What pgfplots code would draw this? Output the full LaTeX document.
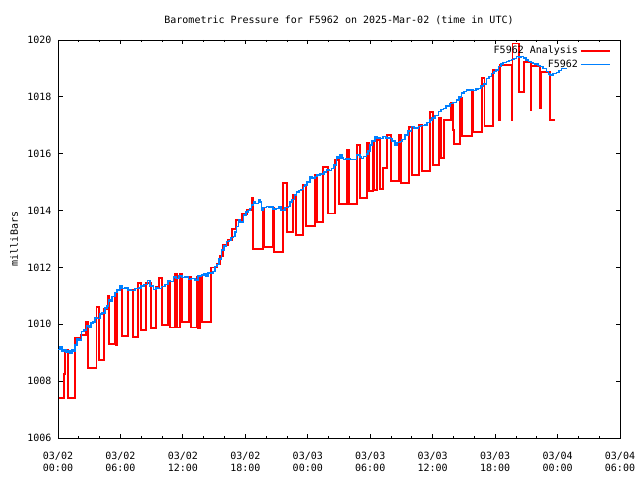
\documentclass[border=0pt]{standalone}
\usepackage{fontspec}
\setmainfont{DejaVu Sans Mono}
\usepackage{pgfplots}
\pgfplotsset{compat=1.18}
\definecolor{obsblue}{RGB}{0,128,255}
\definecolor{anared}{RGB}{255,0,0}
\newcommand\gf{\fontsize{10bp}{12bp}\selectfont}
\begin{document}
\begin{tikzpicture}
\begin{axis}[
  name=ax,
  scale only axis,
  width=562bp, height=398bp,
  xmin=0, xmax=54, ymin=1006, ymax=1020,
  xtick={0,6,...,54},
  xticklabels={{03/02\\00:00},{03/02\\06:00},{03/02\\12:00},{03/02\\18:00},{03/03\\00:00},{03/03\\06:00},{03/03\\12:00},{03/03\\18:00},{03/04\\00:00},{03/04\\06:00}},
  minor x tick num=2,
  ytick={1006,1008,...,1020},
  yticklabels={1006,1008,1010,1012,1014,1016,1018,1020},
  tick align=inside, tick pos=both,
  major tick length=4.5bp, minor tick length=2.5bp,
  every tick/.style={black, line width=0.8bp},
  axis line style={line width=0.9bp},
  xticklabel style={align=center, font=\gf, yshift=-11bp},
  yticklabel style={font=\gf, xshift=-3bp},
  /pgf/number format/assume math mode=true,
  legend style={draw=none, fill=none, at={(1,1)}, anchor=north east, xshift=-9bp, yshift=-4bp, font=\gf, inner sep=0pt, row sep=0.5bp, /tikz/every even column/.append style={column sep=4bp}},
  legend cell align=right,
  legend plot pos=right,
  legend image code/.code={\draw[#1] (0bp,0bp) -- (29bp,0bp);},
  clip mode=individual,
]
\addplot[draw=anared, line width=1.8bp, line join=miter] coordinates {
(0.07,1007.42)
(0.61,1007.42)(0.61,1008.24)
(0.70,1008.24)(0.70,1009.10)
(0.93,1009.10)(0.93,1007.42)
(1.66,1007.42)(1.66,1009.53)
(2.21,1009.53)(2.21,1009.62)
(2.69,1009.62)(2.69,1010.07)
(2.91,1010.07)(2.91,1008.45)
(3.70,1008.45)(3.70,1010.60)
(3.91,1010.60)(3.91,1008.74)
(4.42,1008.74)(4.42,1010.53)
(4.78,1010.53)(4.78,1011.00)
(4.93,1011.00)(4.93,1009.30)
(5.48,1009.30)(5.48,1011.09)
(5.57,1011.09)(5.57,1009.27)
(5.64,1009.27)(5.64,1011.21)
(6.15,1011.21)(6.15,1009.60)
(6.70,1009.60)(6.70,1011.21)
(7.18,1011.21)(7.18,1009.54)
(7.66,1009.54)(7.66,1011.44)
(7.98,1011.44)(7.98,1009.80)
(8.46,1009.80)(8.46,1011.44)
(8.94,1011.44)(8.94,1009.86)
(9.42,1009.86)(9.42,1011.32)
(9.73,1011.32)(9.73,1011.62)
(9.96,1011.62)(9.96,1009.98)
(10.60,1009.98)(10.60,1011.44)
(10.76,1011.44)(10.76,1009.89)
(11.24,1009.89)(11.24,1011.76)
(11.41,1011.76)(11.41,1009.89)
(11.72,1009.89)(11.72,1011.76)
(11.89,1011.76)(11.89,1010.09)
(12.62,1010.09)(12.62,1011.67)
(12.78,1011.67)(12.78,1009.89)
(13.39,1009.89)(13.39,1011.66)
(13.48,1011.66)(13.48,1009.87)
(13.64,1009.87)(13.64,1011.66)
(13.81,1011.66)(13.81,1010.09)
(14.67,1010.09)(14.67,1012.00)
(15.25,1012.00)(15.25,1012.12)
(15.57,1012.12)(15.57,1012.40)
(15.86,1012.40)(15.86,1012.79)
(16.36,1012.79)(16.36,1012.97)
(16.75,1012.97)(16.75,1013.35)
(17.10,1013.35)(17.10,1013.67)
(17.65,1013.67)(17.65,1013.88)
(18.13,1013.88)(18.13,1014.02)
(18.61,1014.02)(18.61,1014.43)
(18.77,1014.43)(18.77,1012.64)
(19.67,1012.64)(19.67,1014.05)
(19.82,1014.05)(19.82,1012.71)
(20.63,1012.71)(20.63,1014.08)
(20.76,1014.08)(20.76,1012.55)
(21.65,1012.55)(21.65,1014.96)
(22.03,1014.96)(22.03,1013.26)
(22.61,1013.26)(22.61,1014.55)
(22.87,1014.55)(22.87,1013.14)
(23.57,1013.14)(23.57,1014.90)
(23.83,1014.90)(23.83,1013.46)
(24.70,1013.46)(24.70,1015.25)
(24.86,1015.25)(24.86,1013.61)
(25.49,1013.61)(25.49,1015.54)
(25.97,1015.54)(25.97,1013.90)
(26.62,1013.90)(26.62,1015.78)
(27.03,1015.78)(27.03,1014.23)
(27.74,1014.23)(27.74,1016.13)
(27.99,1016.13)(27.99,1014.23)
(28.70,1014.23)(28.70,1016.31)
(29.02,1016.31)(29.02,1014.43)
(29.66,1014.43)(29.66,1016.39)
(29.88,1016.39)(29.88,1014.69)
(30.24,1014.69)(30.24,1016.42)
(30.39,1016.42)(30.39,1014.72)
(30.62,1014.72)(30.62,1016.48)
(30.94,1016.48)(30.94,1014.75)
(31.20,1014.75)(31.20,1015.49)
(31.58,1015.49)(31.58,1016.66)
(31.97,1016.66)(31.97,1015.04)
(32.77,1015.04)(32.77,1016.66)
(32.93,1016.66)(32.93,1014.96)
(33.73,1014.96)(33.73,1016.93)
(33.99,1016.93)(33.99,1015.25)
(34.72,1015.25)(34.72,1017.03)
(34.95,1017.03)(34.95,1015.40)
(35.75,1015.40)(35.75,1017.46)
(36.01,1017.46)(36.01,1015.60)
(36.61,1015.60)(36.61,1017.26)
(36.80,1017.26)(36.80,1015.85)
(37.09,1015.85)(37.09,1017.19)
(37.76,1017.19)(37.76,1017.77)
(37.93,1017.77)(37.93,1016.83)
(38.05,1016.83)(38.05,1016.33)
(38.63,1016.33)(38.63,1017.95)
(38.79,1017.95)(38.79,1016.62)
(39.75,1016.62)(39.75,1018.24)
(39.85,1018.24)(39.85,1016.77)
(40.71,1016.77)(40.71,1018.65)
(40.98,1018.65)(40.98,1016.97)
(41.77,1016.97)(41.77,1018.94)
(42.40,1018.94)(42.40,1017.19)
(42.47,1017.19)(42.47,1019.12)
(43.60,1019.12)(43.60,1017.19)
(43.67,1017.19)(43.67,1019.88)
(44.33,1019.88)(44.33,1018.18)
(44.78,1018.18)(44.78,1019.24)
(45.42,1019.24)(45.42,1017.54)
(45.50,1017.54)(45.50,1019.09)
(46.32,1019.09)(46.32,1017.61)
(46.41,1017.61)(46.41,1018.87)
(47.25,1018.87)(47.25,1017.19)
(47.76,1017.19)
};
\addlegendentry{F5962 Analysis}
\addplot[const plot, draw=obsblue, line width=1.4bp] coordinates {
(0.03,1009.12) (0.19,1009.20) (0.38,1009.05) (0.58,1009.10) (0.77,1009.00) (0.96,1009.08)
(1.15,1008.98) (1.35,1009.10) (1.44,1009.05) (1.63,1009.27) (1.83,1009.50) (2.02,1009.45)
(2.28,1009.74) (2.50,1009.80) (2.76,1009.94) (2.98,1009.90) (3.17,1010.05) (3.36,1010.08)
(3.56,1010.22) (3.75,1010.20) (4.04,1010.36) (4.23,1010.40) (4.52,1010.57) (4.71,1010.65)
(4.83,1010.85) (5.00,1010.80) (5.19,1010.98) (5.48,1011.11) (5.67,1011.20) (5.96,1011.35)
(6.15,1011.25) (6.44,1011.27) (6.73,1011.20) (7.08,1011.19) (7.40,1011.25) (7.72,1011.27)
(7.98,1011.35) (8.26,1011.40) (8.62,1011.53) (8.84,1011.35) (9.16,1011.23) (9.42,1011.30)
(9.61,1011.25) (9.96,1011.32) (10.28,1011.40) (10.57,1011.55) (10.76,1011.50) (11.08,1011.67)
(11.34,1011.62) (11.63,1011.70) (11.92,1011.65) (12.20,1011.67) (12.52,1011.58) (12.78,1011.62)
(13.16,1011.56) (13.45,1011.70) (13.81,1011.73) (14.03,1011.78) (14.22,1011.70) (14.41,1011.80)
(14.77,1011.79) (14.89,1011.85) (15.09,1012.03) (15.28,1012.10) (15.47,1012.30) (15.73,1012.61)
(15.95,1012.75) (16.21,1012.91) (16.43,1012.95) (16.62,1013.05) (16.84,1013.08) (17.01,1013.25)
(17.15,1013.45) (17.33,1013.67) (17.49,1013.60) (17.81,1013.84) (18.06,1013.95) (18.26,1014.00)
(18.45,1014.08) (18.59,1014.20) (18.77,1014.31) (18.93,1014.25) (19.25,1014.37) (19.41,1014.30)
(19.57,1014.02) (19.70,1014.10) (20.05,1014.14) (20.28,1014.10) (20.47,1014.15) (20.66,1014.05)
(21.02,1014.08) (21.24,1014.12) (21.43,1014.00) (21.65,1014.02) (21.81,1014.10) (22.13,1014.14)
(22.29,1014.30) (22.49,1014.40) (22.73,1014.55) (22.94,1014.66) (23.16,1014.70) (23.35,1014.75)
(23.57,1014.84) (23.73,1014.90) (23.93,1015.00) (24.21,1015.19) (24.41,1015.15) (24.70,1015.19)
(24.89,1015.25) (25.18,1015.31) (25.37,1015.28) (25.56,1015.35) (25.82,1015.43) (26.04,1015.40)
(26.30,1015.49) (26.52,1015.60) (26.78,1015.90) (26.91,1015.85) (27.10,1015.95) (27.29,1015.85)
(27.41,1015.80) (27.67,1015.82) (28.06,1015.80) (28.38,1015.80) (28.70,1015.95) (28.86,1015.95)
(29.02,1015.88) (29.18,1015.84) (29.34,1015.90) (29.66,1015.99) (29.79,1016.10) (29.98,1016.31)
(30.17,1016.45) (30.46,1016.60) (30.65,1016.55) (30.94,1016.54) (31.23,1016.60) (31.52,1016.55)
(31.90,1016.54) (32.09,1016.45) (32.38,1016.31) (32.58,1016.40) (32.86,1016.42) (33.06,1016.50)
(33.34,1016.66) (33.63,1016.80) (33.99,1016.95) (34.21,1016.90) (34.62,1016.95) (34.88,1017.00)
(35.27,1017.01) (35.46,1017.10) (35.75,1017.19) (35.94,1017.25) (36.22,1017.35) (36.54,1017.48)
(36.80,1017.55) (37.02,1017.60) (37.28,1017.68) (37.67,1017.77) (37.96,1017.80) (38.31,1017.89)
(38.53,1018.00) (38.79,1018.13) (39.01,1018.18) (39.27,1018.24) (39.59,1018.24) (39.91,1018.22)
(40.17,1018.28) (40.39,1018.30) (40.65,1018.38) (40.87,1018.45) (41.19,1018.65) (41.42,1018.72)
(41.67,1018.83) (41.90,1018.90) (42.09,1018.95) (42.31,1019.06) (42.57,1019.15) (42.76,1019.20)
(43.12,1019.24) (43.34,1019.28) (43.60,1019.32) (43.82,1019.35) (44.08,1019.41) (44.30,1019.38)
(44.49,1019.42) (44.71,1019.36) (44.97,1019.30) (45.19,1019.24) (45.45,1019.20) (45.64,1019.18)
(45.84,1019.16) (46.12,1019.10) (46.32,1019.06) (46.60,1019.00) (46.96,1018.89) (47.13,1018.80)
(47.28,1018.77) (47.56,1018.82) (47.92,1018.85) (48.14,1018.92) (48.40,1019.00) (48.62,1019.00)
(48.88,1019.00)
};
\addlegendentry{F5962}
\node[font=\gf, anchor=center] at ([yshift=20bp]rel axis cs:0.5,1) {Barometric Pressure for F5962 on 2025-Mar-02 (time in UTC)};
\node[font=\gf, rotate=90, anchor=center] at ([xshift=-44bp]rel axis cs:0,0.5) {milliBars};
\end{axis}
\pgfresetboundingbox
\useasboundingbox ([shift={(-58bp,-42bp)}]ax.south west) rectangle ([shift={(20bp,40bp)}]ax.north east);
\end{tikzpicture}
\end{document}
